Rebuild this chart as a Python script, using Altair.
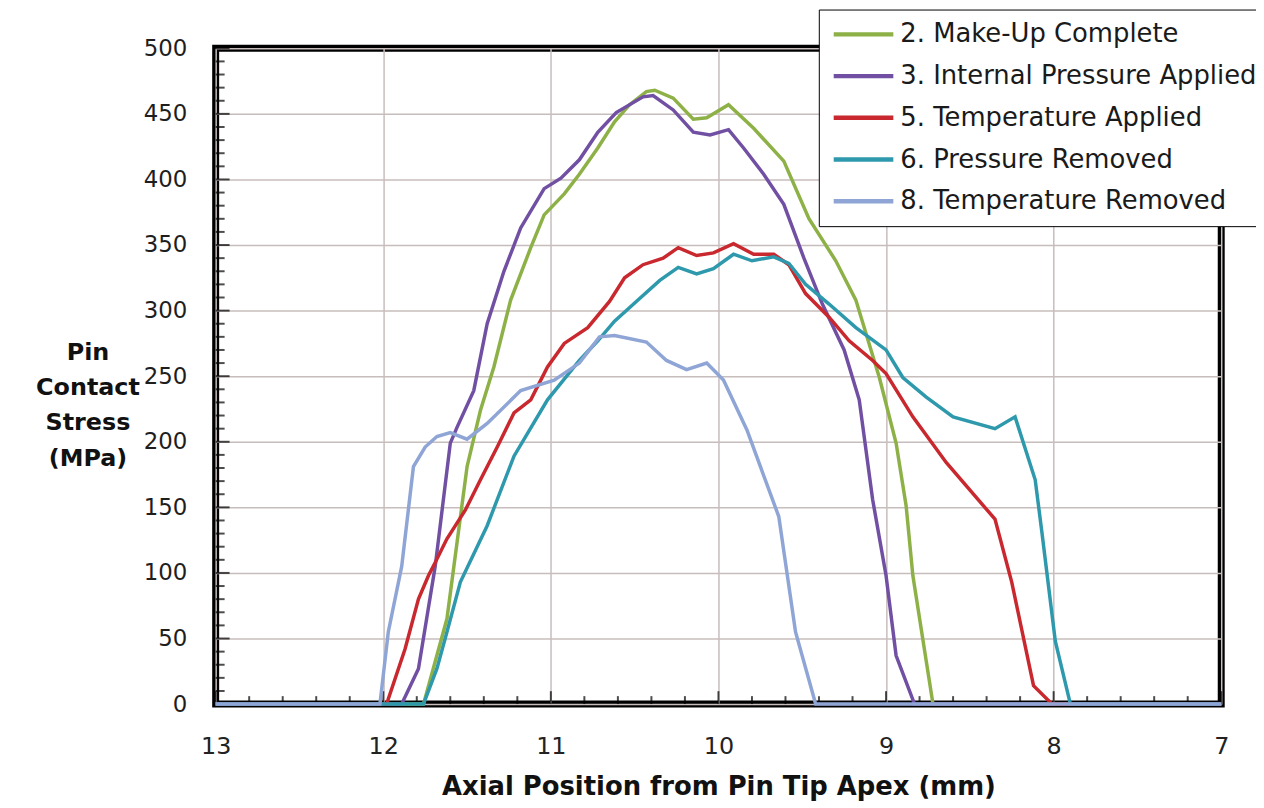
import altair as alt
import pandas as pd

# ---------------- data ----------------
series_names = [
    "2. Make-Up Complete",
    "3. Internal Pressure Applied",
    "5. Temperature Applied",
    "6. Pressure Removed",
    "8. Temperature Removed",
]
series_colors = ["#8DB147", "#7150A3", "#C8282E", "#2E99AD", "#8EA5D6"]

x_green = [13, 11.76, 11.62, 11.50, 11.42, 11.34, 11.24, 11.12, 11.04, 10.92, 10.83,
           10.72, 10.62, 10.53, 10.43, 10.38, 10.27, 10.15, 10.07, 9.94, 9.79, 9.61,
           9.46, 9.30, 9.18, 9.04, 8.94, 8.88, 8.84, 8.72, 7]
y_green = [0, 0, 65, 181, 224, 257, 308, 348, 373, 389, 404,
           424, 444, 457, 467, 468, 462, 446, 447, 457, 439, 414,
           370, 338, 308, 249, 199, 151, 98, 0, 0]

x_purple = [13, 11.89, 11.79, 11.69, 11.60, 11.56, 11.46, 11.38, 11.28, 11.18, 11.04,
            10.94, 10.83, 10.72, 10.61, 10.45, 10.39, 10.27, 10.15, 10.05, 9.94, 9.85,
            9.73, 9.61, 9.49, 9.38, 9.25, 9.16, 9.08, 9.00, 8.94, 8.83, 7]
y_purple = [0, 0, 27, 105, 199, 211, 239, 290, 330, 363, 393,
            401, 415, 436, 451, 463, 464, 453, 436, 434, 438, 424,
            404, 381, 340, 305, 270, 232, 156, 98, 37, 0, 0]

x_red = [13, 11.98, 11.87, 11.79, 11.73, 11.69, 11.62, 11.51, 11.42, 11.32, 11.22,
         11.12, 11.02, 10.92, 10.78, 10.65, 10.56, 10.45, 10.33, 10.24, 10.13, 10.03,
         9.91, 9.79, 9.67, 9.58, 9.48, 9.34, 9.22, 9.08, 9.00, 8.84, 8.64, 8.35,
         8.25, 8.12, 8.01, 7]
y_red = [0, 0, 42, 80, 98, 108, 126, 148, 171, 196, 222,
         232, 257, 275, 287, 307, 325, 335, 340, 348, 342, 344,
         351, 343, 343, 335, 313, 295, 277, 262, 252, 219, 184, 141,
         93, 14, 0, 0]

x_teal = [13, 11.76, 11.68, 11.62, 11.54, 11.38, 11.22, 11.02, 10.83, 10.72, 10.62,
          10.49, 10.35, 10.24, 10.13, 10.03, 9.91, 9.80, 9.67, 9.58, 9.48, 9.34,
          9.18, 9.00, 8.90, 8.76, 8.60, 8.35, 8.23, 8.11, 8.07, 7.99, 7.90, 7]
y_teal = [0, 0, 27, 55, 93, 136, 189, 232, 262, 277, 292,
          307, 323, 333, 328, 332, 343, 338, 341, 336, 320, 305,
          287, 270, 249, 234, 219, 210, 219, 171, 131, 48, 0, 0]

x_lblue = [13, 12.02, 11.97, 11.89, 11.82, 11.75, 11.68, 11.60, 11.50, 11.38, 11.18,
           10.98, 10.83, 10.71, 10.62, 10.43, 10.31, 10.19, 10.07, 9.97, 9.83, 9.64,
           9.54, 9.42, 7]
y_lblue = [0, 0, 55, 105, 181, 196, 204, 207, 202, 214, 239,
           247, 260, 280, 281, 276, 262, 255, 260, 247, 209, 143,
           55, 0, 0]

x_tick_labels = [7, 8, 9, 10, 11, 12, 13]
y_tick_labels = [0, 50, 100, 150, 200, 250, 300, 350, 400, 450, 500]
x_minor_ticks = [round(7 + 0.2 * i, 1) for i in range(31) if i % 5]
y_minor_ticks = [v for v in range(0, 501, 10) if v % 50]

# ---------------- build table ----------------
rows = []
for name, xs, ys in zip(series_names,
                        [x_green, x_purple, x_red, x_teal, x_lblue],
                        [y_green, y_purple, y_red, y_teal, y_lblue]):
    for xv, yv in zip(xs, ys):
        rows.append({"series": name, "pos": xv, "stress": yv})
df = pd.DataFrame(rows)

W, H = 1012, 660
FONT = "DejaVu Sans"

x_scale = alt.Scale(domain=[7, 13], reverse=True, nice=False, zero=False)
y_scale = alt.Scale(domain=[0, 500], nice=False)

x_axis = alt.Axis(
    values=x_tick_labels, format="d", grid=True, gridColor="#C8BDBD", gridWidth=1.5,
    domain=False, ticks=False, tickSize=0, labelPadding=31, labelFontSize=24,
    labelColor="#222222", labelFont=FONT, labelFlush=False,
    title="Axial Position from Pin Tip Apex (mm)", titleFontSize=26,
    titleFontWeight="bold", titleFont=FONT, titleColor="#111111", titlePadding=15,
)
y_axis = alt.Axis(
    values=y_tick_labels, grid=True, gridColor="#C8BDBD", gridWidth=1.5,
    domain=False, ticks=False, tickSize=0, labelPadding=29, labelFontSize=23,
    labelColor="#1e1e1e", labelFont=FONT, labelFlush=False,
    title=["Pin", "Contact", "Stress", "(MPa)"], titleAngle=0, titleAlign="center",
    titleBaseline="top", titleX=-129, titleY=294, titleLineHeight=35.5,
    titleFontSize=24, titleFontWeight="bold", titleFont=FONT, titleColor="#111111",
)
x_enc = alt.X("pos:Q", scale=x_scale, axis=x_axis)
y_enc = alt.Y("stress:Q", scale=y_scale, axis=y_axis)

color_enc = alt.Color(
    "series:N",
    scale=alt.Scale(domain=series_names, range=series_colors),
    legend=alt.Legend(
        title=None, orient="none", legendX=607, legendY=-39,
        labelFontSize=26, labelFont=FONT, labelColor="#1a1a1a", labelLimit=0,
        symbolType="M-1,0H5", symbolSize=400, symbolStrokeWidth=4.5,
        labelOffset=44, rowPadding=16, padding=12,
        strokeColor="black", fillColor="white",
    ),
)

layers = []
for name in series_names:
    layers.append(
        alt.Chart(df)
        .transform_filter(alt.datum.series == name)
        .mark_line(strokeWidth=3.5)
        .encode(x=x_enc, y=y_enc, color=color_enc)
    )

# inward axis ticks (same field names / axes as the lines so axes merge)
y_major = alt.Chart(pd.DataFrame({"stress": y_tick_labels})).mark_tick(
    orient="horizontal", color="black", thickness=2, size=14
).encode(y=y_enc, x=alt.value(7))
y_minor = alt.Chart(pd.DataFrame({"stress": y_minor_ticks})).mark_tick(
    orient="horizontal", color="black", thickness=2, size=9
).encode(y=y_enc, x=alt.value(4.5))
x_major = alt.Chart(pd.DataFrame({"pos": x_tick_labels})).mark_tick(
    orient="vertical", color="black", thickness=2, size=13
).encode(x=x_enc, y=alt.value(H - 6.5))
x_minor = alt.Chart(pd.DataFrame({"pos": x_minor_ticks})).mark_tick(
    orient="vertical", color="black", thickness=2, size=8
).encode(x=x_enc, y=alt.value(H - 4))

chart = (
    alt.layer(y_major, y_minor, x_major, x_minor, *layers)
    .properties(
        width=W, height=H,
        autosize=alt.AutoSizeParams(type="none"),
        padding={"left": 209, "top": 38, "right": 35, "bottom": 98},
        background="white",
    )
    .configure(font=FONT)
    .configure_view(stroke="black", strokeWidth=7)
)

chart.save("out.html", embed_options={"renderer": "svg", "actions": False})
